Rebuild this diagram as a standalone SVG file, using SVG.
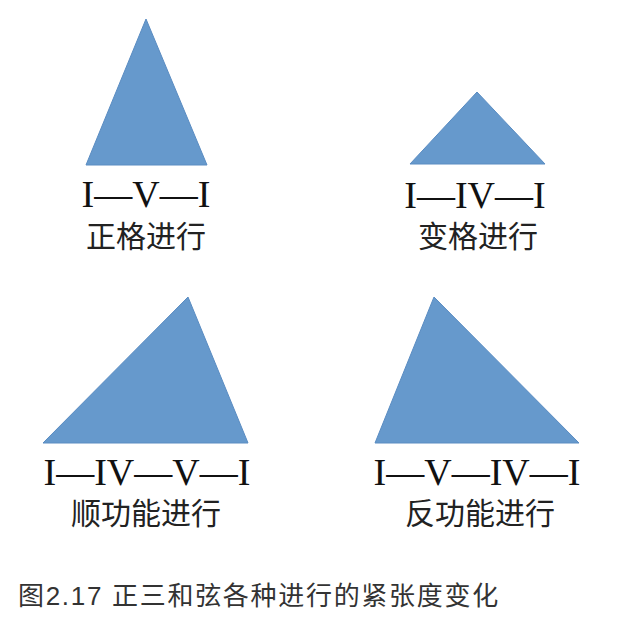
<svg xmlns="http://www.w3.org/2000/svg" width="622" height="632" viewBox="0 0 622 632">
<style>
.tri{fill:#6699cc;stroke:#5a8cc2;stroke-width:1}
.roman{font-family:"Liberation Serif","Times New Roman",serif;font-size:38px;fill:#111;text-anchor:middle}
.cn{font-family:"Noto Sans CJK SC",sans-serif;font-size:30px;fill:#222;text-anchor:middle}
.cap{font-family:"Liberation Sans","Noto Sans CJK SC",sans-serif;font-size:26px;fill:#333;letter-spacing:1.7px}
.cap2{font-family:"Noto Sans CJK SC",sans-serif}
</style>
<rect width="622" height="632" fill="#ffffff"/>
<g id="authentic">
<polygon class="tri" points="146,19 86,165 207,165"/>
<text class="roman" x="146" y="207">I—V—I</text>
<text class="cn" x="146" y="247">正格进行</text>
</g>
<g id="plagal">
<polygon class="tri" points="477,92 410,164 545,164"/>
<text class="roman" x="475" y="208">I—IV—I</text>
<text class="cn" x="478" y="247">变格进行</text>
</g>
<g id="forward">
<polygon class="tri" points="188,297 43,443 248,443"/>
<text class="roman" x="147" y="485">I—IV—V—I</text>
<text class="cn" x="146" y="524">顺功能进行</text>
</g>
<g id="reverse">
<polygon class="tri" points="434,297 375,443 579,443"/>
<text class="roman" x="477" y="485">I—V—IV—I</text>
<text class="cn" x="480" y="524">反功能进行</text>
</g>
<g id="connectors"></g>
<text class="cap" x="18" y="605"><tspan class="cap2">图</tspan>2.17 <tspan class="cap2">正三和弦各种进行的紧张度变化</tspan></text>
</svg>
